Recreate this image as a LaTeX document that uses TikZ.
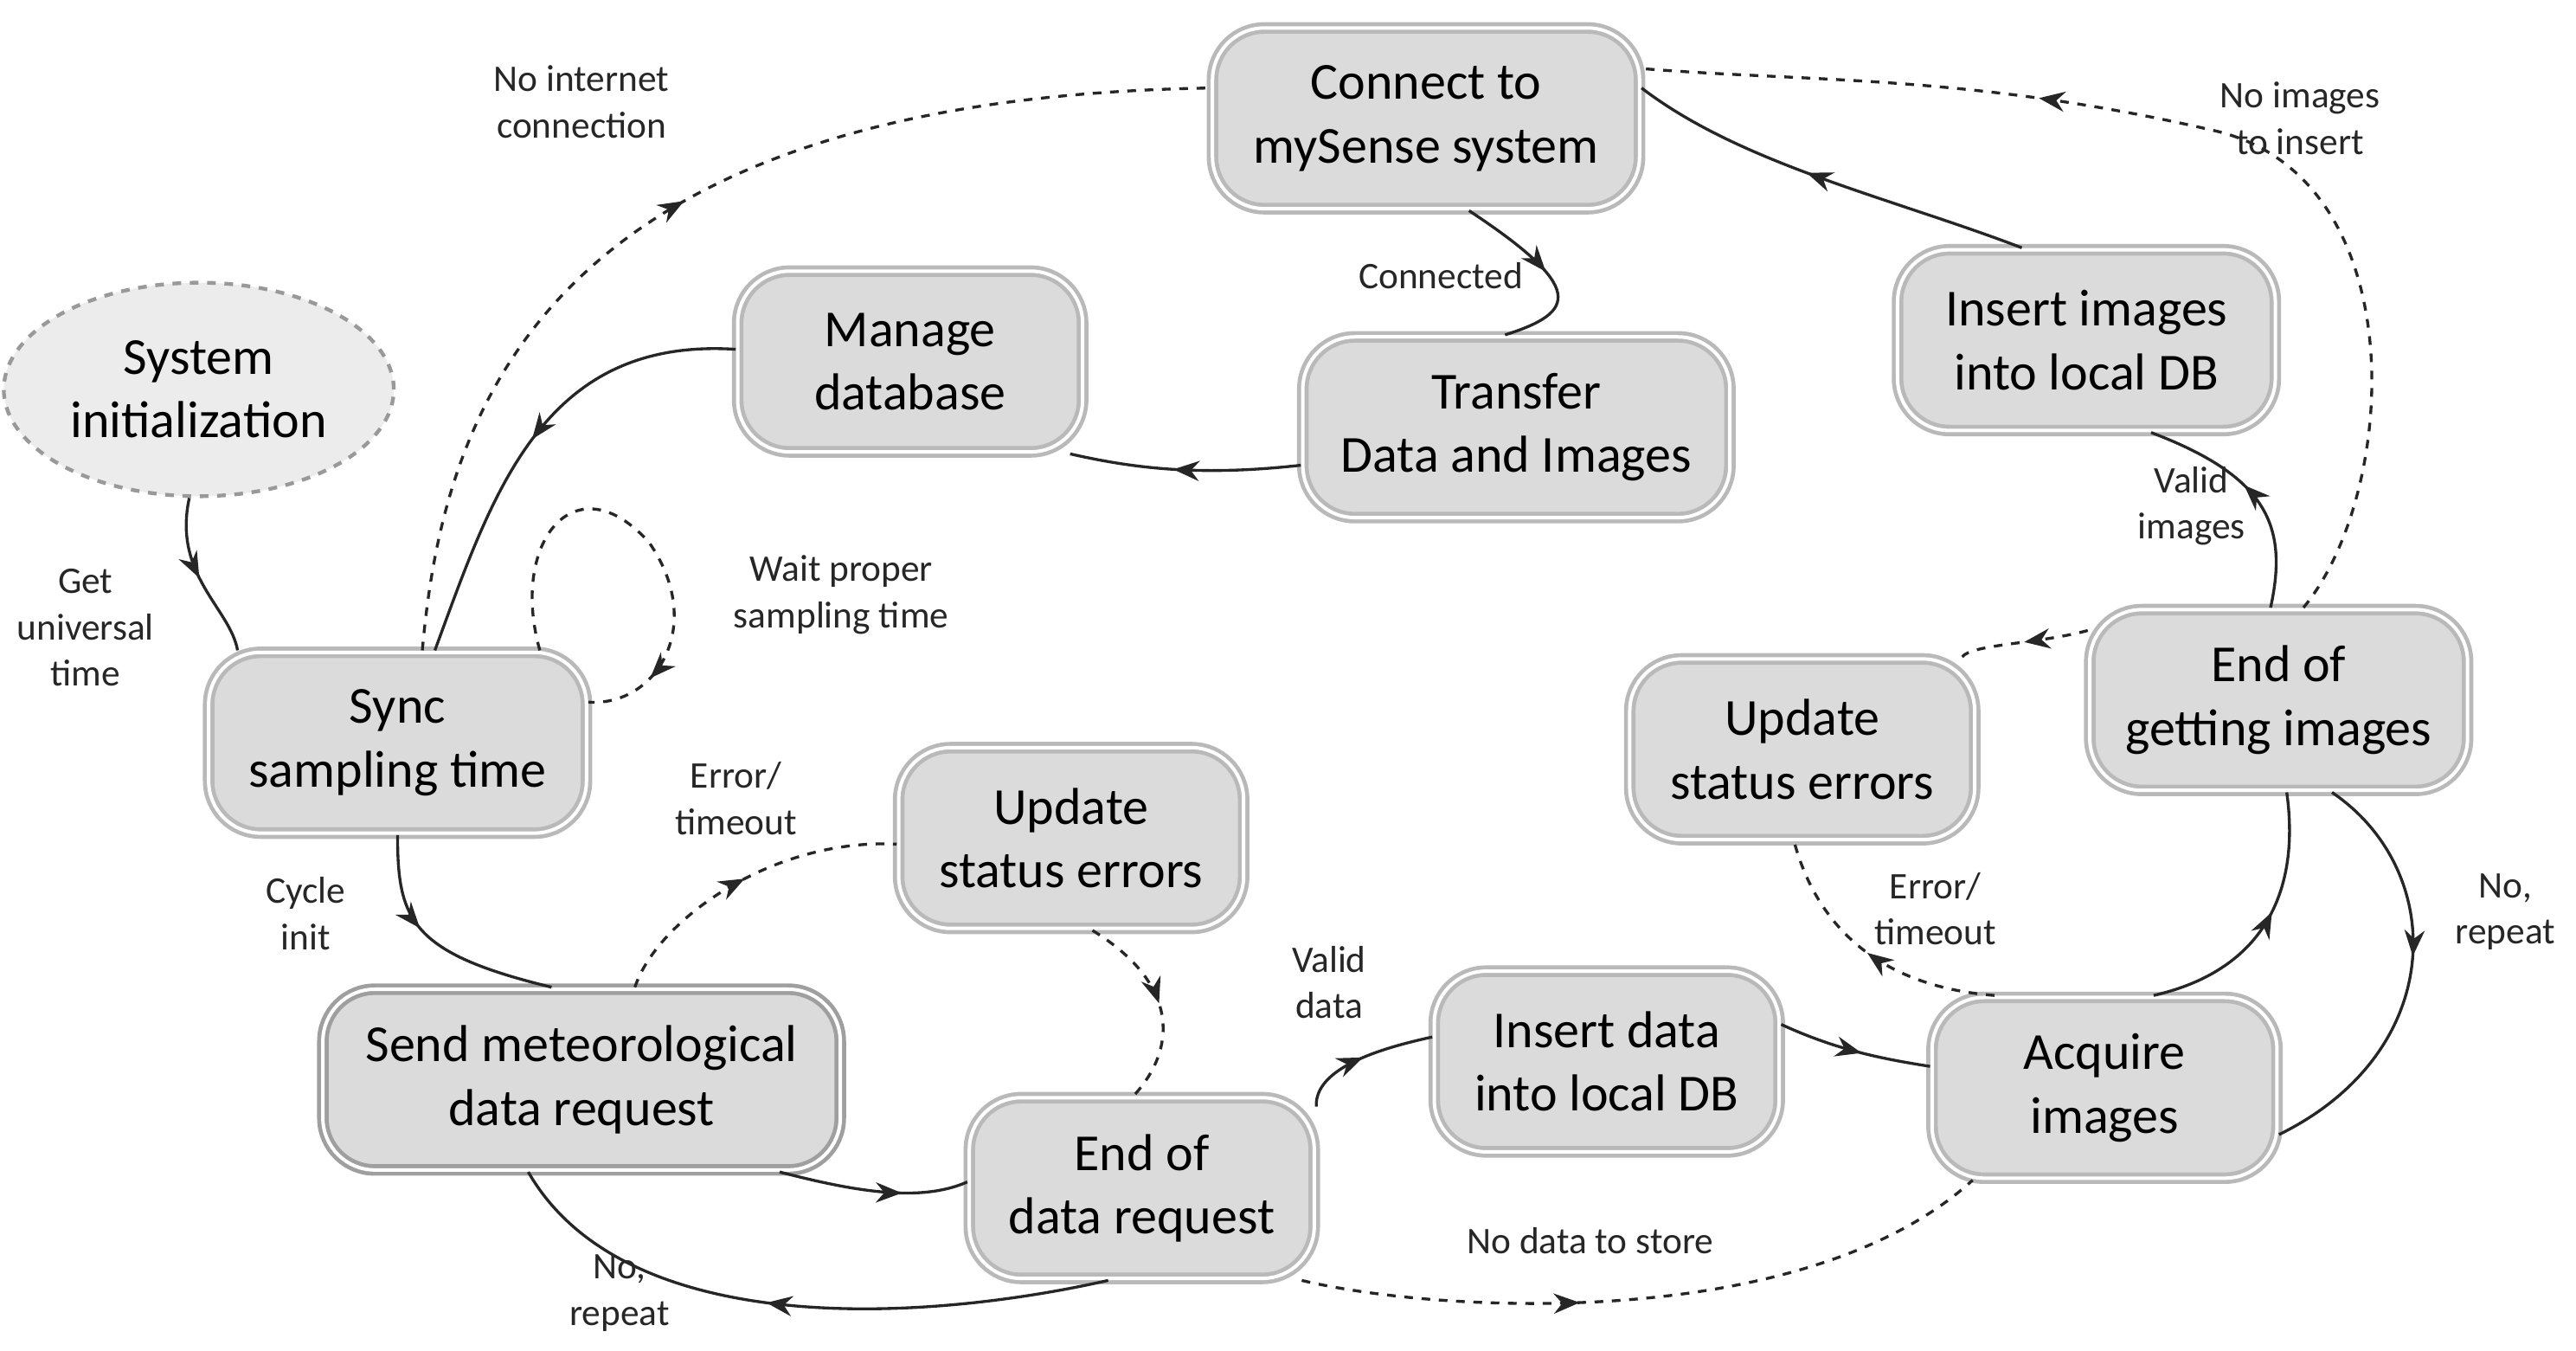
\documentclass[tikz,border=0pt]{standalone}
\usepackage{fontspec}
\setmainfont{Carlito}
\usetikzlibrary{arrows.meta,decorations.markings,shapes.geometric}
\tikzset{
  state/.style={rectangle,rounded corners=18pt,draw=gray!55,line width=1.4pt,
    double=white,double distance=1.2pt,fill=gray!28,align=center,
    minimum height=2.2cm,font=\fontsize{18}{22}\selectfont,inner sep=2pt},
  lbl/.style={align=center,font=\fontsize{13}{16}\selectfont,text=black!85},
  link/.style={line width=1pt,black!85},
  dlink/.style={link,dashed},
  marr/.style={postaction={decorate},decoration={markings,
    mark=at position #1 with {\arrow{Stealth[length=9pt,width=7pt]}}}},
}
\begin{document}
\begin{tikzpicture}[x=0.02cm,y=-0.02cm]
\useasboundingbox (0,0) rectangle (1568,822);
% states
\node[state,minimum width=5.2cm] (conn) at (868,72) {Connect to\\mySense system};
\node[state,minimum width=4.2cm] (mdb) at (554,220) {Manage\\database};
\node[state,minimum width=5.2cm] (xfer) at (923,260) {Transfer\\Data and Images};
\node[state,minimum width=4.6cm] (insimg) at (1270,207) {Insert images\\into local DB};
\node[ellipse,draw=gray!80,dashed,line width=1.3pt,fill=gray!15,minimum width=4.2cm,
  minimum height=2.6cm,align=center,font=\fontsize{18}{22}\selectfont] (init) at (121,237) {System\\initialization};
\node[state,minimum width=4.6cm] (sync) at (242,452) {Sync\\sampling time};
\node[state,minimum width=4.2cm] (updl) at (652,510) {Update\\status errors};
\node[state,minimum width=4.2cm] (updr) at (1097,456) {Update\\status errors};
\node[state,minimum width=4.6cm] (endimg) at (1387,426) {End of\\getting images};
\node[state,minimum width=6.3cm,draw=gray!75] (send) at (354,657) {Send meteorological\\data request};
\node[state,minimum width=4.2cm] (enddat) at (695,723) {End of\\data request};
\node[state,minimum width=4.2cm] (insdat) at (978,646) {Insert data\\into local DB};
\node[state,minimum width=4.2cm] (acq) at (1281,662) {Acquire\\images};
% labels
\node[lbl] (l1) at (52,382) {Get\\universal\\time};
\node[lbl] (l2) at (186,556) {Cycle\\init};
\node[lbl] (l3) at (512,362) {Wait proper\\sampling time};
\node[lbl] (l4) at (354,62) {No internet\\connection};
\node[lbl] (l5) at (877,168) {Connected};
\node[lbl] (l6) at (1334,308) {Valid\\images};
\node[lbl] (l7) at (1400,72) {No images\\to insert};
\node[lbl] (l8) at (1525,555) {No,\\repeat};
\node[lbl] (l9) at (1178,553) {Error/\\timeout};
\node[lbl] (l10) at (809,598) {Valid\\data};
\node[lbl] (l11) at (968,755) {No data to store};
\node[lbl] (l12) at (377,787) {No,\\repeat};
\node[lbl] (l13) at (448,486) {Error/\\timeout};
% connectors
\draw[link,marr=0.5] (init.265) .. controls (105,350) and (140,370) .. (sync.150);
\draw[link,marr=0.4] (sync.south) .. controls (242,560) and (250,580) .. (send.108);
\draw[dlink,marr=0.85] (sync.33) .. controls (310,330) and (350,280) .. (395,330) .. controls (430,380) and (400,430) .. (sync.12);
\draw[dlink,marr=0.5] (sync.75) .. controls (270,250) and (330,60) .. (conn.172);
\draw[link,marr=0.5] (mdb.176) .. controls (330,205) and (300,300) .. (sync.68);
\draw[link,marr=0.55] (xfer.190) .. controls (730,290) and (690,285) .. (mdb.330);
\draw[link,marr=0.5] (conn.295) .. controls (965,175) and (960,190) .. (xfer.97);
\draw[link,marr=0.55] (insimg.125) .. controls (1150,120) and (1060,100) .. (conn.8);
\draw[link,marr=0.55] (endimg.95) .. controls (1393,320) and (1380,290) .. (insimg.305);
\draw[dlink,marr=0.65] (endimg.75) .. controls (1460,300) and (1470,110) .. (1350,80) .. controls (1200,45) and (1100,50) .. (conn.13);
\draw[dlink,marr=0.5] (endimg.160) .. controls (1240,392) and (1200,392) .. (updr.30);
\draw[link,marr=0.55] (acq.62) .. controls (1380,590) and (1400,540) .. (endimg.275);
\draw[link,marr=0.45] (endimg.300) .. controls (1490,530) and (1490,640) .. (acq.345);
\draw[dlink,marr=0.5] (acq.140) .. controls (1140,600) and (1105,560) .. (updr.265);
\draw[link,marr=0.55] (insdat.12) .. controls (1120,640) and (1150,645) .. (acq.173);
\draw[link,marr=0.5] (enddat.25) .. controls (800,650) and (840,638) .. (insdat.172);
\draw[dlink,marr=0.4] (enddat.330) .. controls (880,800) and (1100,810) .. (acq.215);
\draw[link,marr=0.65] (send.335) .. controls (520,725) and (560,732) .. (enddat.178);
\draw[link,marr=0.55] (enddat.250) .. controls (560,805) and (380,815) .. (send.240);
\draw[dlink,marr=0.5] (send.60) .. controls (400,560) and (470,510) .. (updl.182);
\draw[dlink,marr=0.5] (updl.283) .. controls (720,600) and (715,640) .. (enddat.95);
\end{tikzpicture}
\end{document}
